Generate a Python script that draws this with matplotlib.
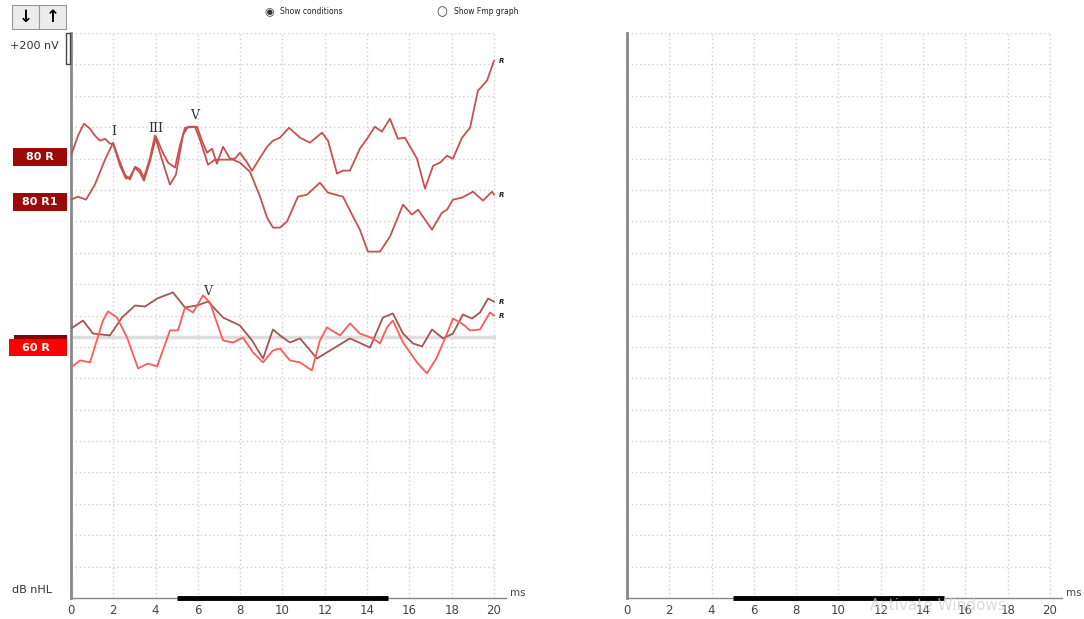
import matplotlib.pyplot as plt
from matplotlib.patches import Rectangle

# time (ms) and amplitude (nV, relative to each trace's baseline)
t_80r = [0, 0.33, 0.61, 0.90, 1.13, 1.37, 1.61, 1.84, 1.99, 2.32, 2.60, 2.79, 3.03, 3.26, 3.45,
         3.74, 4.02, 4.30, 4.59, 4.92, 5.15, 5.39, 5.96, 6.19, 6.43, 6.67, 6.90, 7.19, 7.52, 7.75,
         7.99, 8.27, 8.56, 8.94, 9.27, 9.55, 9.88, 10.31, 10.83, 11.30, 11.87, 12.15, 12.58, 12.86,
         13.19, 13.66, 14.0, 14.37, 14.70, 15.08, 15.46, 15.79, 16.36, 16.74, 17.12, 17.45, 17.78,
         18.06, 18.49, 18.87, 19.24, 19.67, 20.0]
v_80r = [-32, 96, 172, 140, 96, 64, 76, 45, 45, -96, -178, -166, -108, -140, -191,
         -64, 89, 0, -76, -108, 32, 146, 153, 64, -13, 13, -83, 25, -51, -51,
         -13, -64, -127, -45, 25, 64, 83, 146, 83, 51, 115, 64, -146, -127,
         -127, 13, 76, 153, 121, 204, 76, 83, -51, -242, -96, -76, -32,
         -51, 83, 146, 382, 446, 573]

t_80r1 = [0, 0.33, 0.71, 1.13, 1.61, 1.99, 2.27, 2.55, 2.79, 3.03, 3.26, 3.45, 3.74, 3.97,
          4.30, 4.68, 4.96, 5.30, 5.53, 5.86, 6.10, 6.48, 6.81, 7.28, 7.66, 7.99, 8.46, 8.94,
          9.27, 9.55, 9.88, 10.21, 10.73, 11.16, 11.77, 12.15, 12.86, 13.29, 13.66, 14.04,
          14.61, 15.08, 15.70, 16.12, 16.41, 16.74, 17.07, 17.54, 17.78, 18.06, 18.49, 19.01,
          19.48, 19.91, 20.0]
v_80r1 = [-32, -13, -32, 64, 223, 331, 223, 127, 96, 178, 159, 108, 236, 376,
          223, 64, 127, 382, 433, 433, 350, 191, 223, 223, 223, 204, 146, -13,
          -146, -210, -210, -172, -13, 0, 76, 13, -13, -127, -223, -363,
          -363, -268, -64, -127, -96, -159, -223, -115, -96, -32, -19, 19,
          -38, 19, 0]

t_60r_a = [0, 0.57, 1.04, 1.84, 2.41, 3.03, 3.50, 4.07, 4.82, 5.39, 5.96, 6.48, 7.19, 7.99,
           8.56, 9.08, 9.55, 9.88, 10.35, 10.83, 11.63, 12.25, 13.19, 14.14, 14.75, 15.22,
           15.70, 16.17, 16.60, 17.07, 17.59, 18.06, 18.53, 18.96, 19.34, 19.72, 20.0]
v_60r_a = [57, 108, 25, 13, 127, 204, 197, 248, 287, 191, 204, 229, 127, 76,
           -19, -134, 51, 13, -32, -6, -134, -83, -6, -64, 127, 153,
           25, -38, -57, 51, -6, 25, 146, 121, 159, 248, 229]

t_60r_b = [0, 0.43, 0.90, 1.51, 1.75, 2.17, 2.65, 3.17, 3.64, 4.07, 4.68, 5.06, 5.39, 5.77,
           6.24, 6.57, 7.19, 7.66, 8.13, 8.61, 9.08, 9.55, 9.88, 10.35, 10.83, 11.39, 11.77,
           12.10, 12.72, 13.19, 13.66, 14.28, 14.61, 14.94, 15.22, 15.70, 16.36, 16.83, 17.30,
           17.78, 18.06, 18.49, 18.87, 19.34, 19.81, 20.0]
v_60r_b = [-191, -146, -159, 108, 166, 127, 0, -197, -166, -185, 45, 45, 191, 159,
           268, 223, -19, -32, 0, -96, -159, -83, -70, -146, -159, -210, -19,
           64, 13, 89, 25, -6, -38, 64, 108, -32, -159, -229, -127,
           25, 121, 89, 45, 51, 159, 140]

# baselines (nV on the plot scale) and labels
base_80r = 2850
base_80r1 = 2570
base_60r = 1660
xticks = [0, 2, 4, 6, 8, 10, 12, 14, 16, 18, 20]

fig = plt.figure(figsize=(10.84, 6.19), dpi=100)
W, H = 1084, 619


def setup_axes(x0_px):
    ax = fig.add_axes([x0_px / W, 21 / H, 434.6 / W, 565 / H])
    ax.set_xlim(0, 20.55)
    ax.set_ylim(0, 3600)
    for y in range(200, 3601, 200):
        ax.plot([0, 20], [y, y], color="#d0d0d0", lw=1, ls=(0, (1, 2)), zorder=1)
    for x in xticks[1:]:
        ax.plot([x, x], [0, 3600], color="#d0d0d0", lw=1, ls=(0, (1, 2)), zorder=1)
    for s in ["top", "right"]:
        ax.spines[s].set_visible(False)
    ax.spines["left"].set_color("#888888")
    ax.spines["left"].set_linewidth(2)
    ax.spines["bottom"].set_color("#888888")
    ax.spines["bottom"].set_linewidth(1)
    ax.set_xticks(xticks)
    ax.set_xticklabels([str(x) for x in xticks])
    ax.set_yticks([])
    ax.tick_params(axis="x", length=0, pad=4, labelsize=8.5, labelcolor="#444444")
    ax.plot([5, 15], [0, 0], color="black", lw=3.5, solid_capstyle="butt",
            clip_on=False, zorder=5)
    ax.text(20.75, 0, "ms", fontsize=7.5, color="#444444", va="bottom", ha="left")
    return ax


ax = setup_axes(71)
ax2 = setup_axes(627)

# traces
ax.plot([0, 20], [base_60r, base_60r], color="#dddddd", lw=2.5, zorder=2)
ax.plot(t_80r, [v + base_80r for v in v_80r], color="#c8504f", lw=1.3, zorder=3,
        solid_joinstyle="round")
ax.plot(t_80r1, [v + base_80r1 for v in v_80r1], color="#c8504f", lw=1.3, zorder=3,
        solid_joinstyle="round")
ax.plot(t_60r_a, [v + base_60r for v in v_60r_a], color="#a85252", lw=1.3, zorder=3,
        solid_joinstyle="round")
ax.plot(t_60r_b, [v + base_60r for v in v_60r_b], color="#ff5a5a", lw=1.3, zorder=3,
        solid_joinstyle="round")

# peak labels
for x, y, s in [(2.0, base_80r1 + 360, "I"), (4.0, base_80r1 + 380, "III"),
                (5.85, base_80r1 + 460, "V"), (6.48, base_60r + 250, "V")]:
    ax.text(x, y, s, fontsize=9, family="DejaVu Serif", color="#333333",
            ha="center", va="bottom")

# end markers
for y in [base_80r + 573, base_80r1 + 0, base_60r + 229, base_60r + 140]:
    ax.text(20.25, y, "R", fontsize=5, fontweight="bold", fontstyle="italic",
            color="#222222", va="center", ha="left")

# scale bar
ax.add_patch(Rectangle((-0.26, 3400), 0.2, 200, facecolor="white",
                       edgecolor="#444444", lw=1, clip_on=False, zorder=6))
fig.text(10 / W, 1 - 46 / H, "+200 nV", fontsize=8, color="#333333", va="center")
fig.text(12 / W, 1 - 590 / H, "dB nHL", fontsize=8, color="#333333", va="center")

# condition labels
for y_px, lab, col in [(157, "80 R", "#9b0a0a"), (202, "80 R1", "#9b0a0a")]:
    fig.patches.append(Rectangle((13 / W, 1 - (y_px + 9) / H), 54 / W, 18 / H,
                                 transform=fig.transFigure, facecolor=col,
                                 edgecolor="none"))
    fig.text(40 / W, 1 - y_px / H, lab, fontsize=8, fontweight="bold",
             color="white", ha="center", va="center")
fig.patches.append(Rectangle((14 / W, 1 - 340 / H), 53 / W, 5 / H,
                             transform=fig.transFigure, facecolor="#8b0000",
                             edgecolor="none"))
fig.patches.append(Rectangle((9 / W, 1 - 356 / H), 58 / W, 17 / H,
                             transform=fig.transFigure, facecolor="#ff0000",
                             edgecolor="none"))
fig.text(36 / W, 1 - 348 / H, "60 R", fontsize=8, fontweight="bold",
         color="white", ha="center", va="center")

# arrow buttons
for x_px, s in [(12, "\u2193"), (39, "\u2191")]:
    fig.patches.append(Rectangle((x_px / W, 1 - 29 / H), 27 / W, 24 / H,
                                 transform=fig.transFigure, facecolor="#ececec",
                                 edgecolor="#999999", lw=0.8))
    fig.text((x_px + 13.5) / W, 1 - 17 / H, s, fontsize=12, fontweight="bold",
             color="black", ha="center", va="center")

# radio buttons
fig.text(264 / W, 1 - 12 / H, "\u25c9", fontsize=8, color="#333333", va="center")
fig.text(280 / W, 1 - 12 / H, "Show conditions", fontsize=5.5, color="#222222", va="center")
fig.text(436 / W, 1 - 12 / H, "\u25cb", fontsize=9, color="#333333", va="center")
fig.text(454 / W, 1 - 12 / H, "Show Fmp graph", fontsize=5.5, color="#222222", va="center")

# watermark (semi-transparent, sits over the tick labels as in the screenshot)
fig.text(870 / W, 1 - 606 / H, "Activate Windows", fontsize=11, color="#cccccc",
         va="center", alpha=0.7, zorder=0)

plt.savefig("out.png", dpi=100)
plt.close()
